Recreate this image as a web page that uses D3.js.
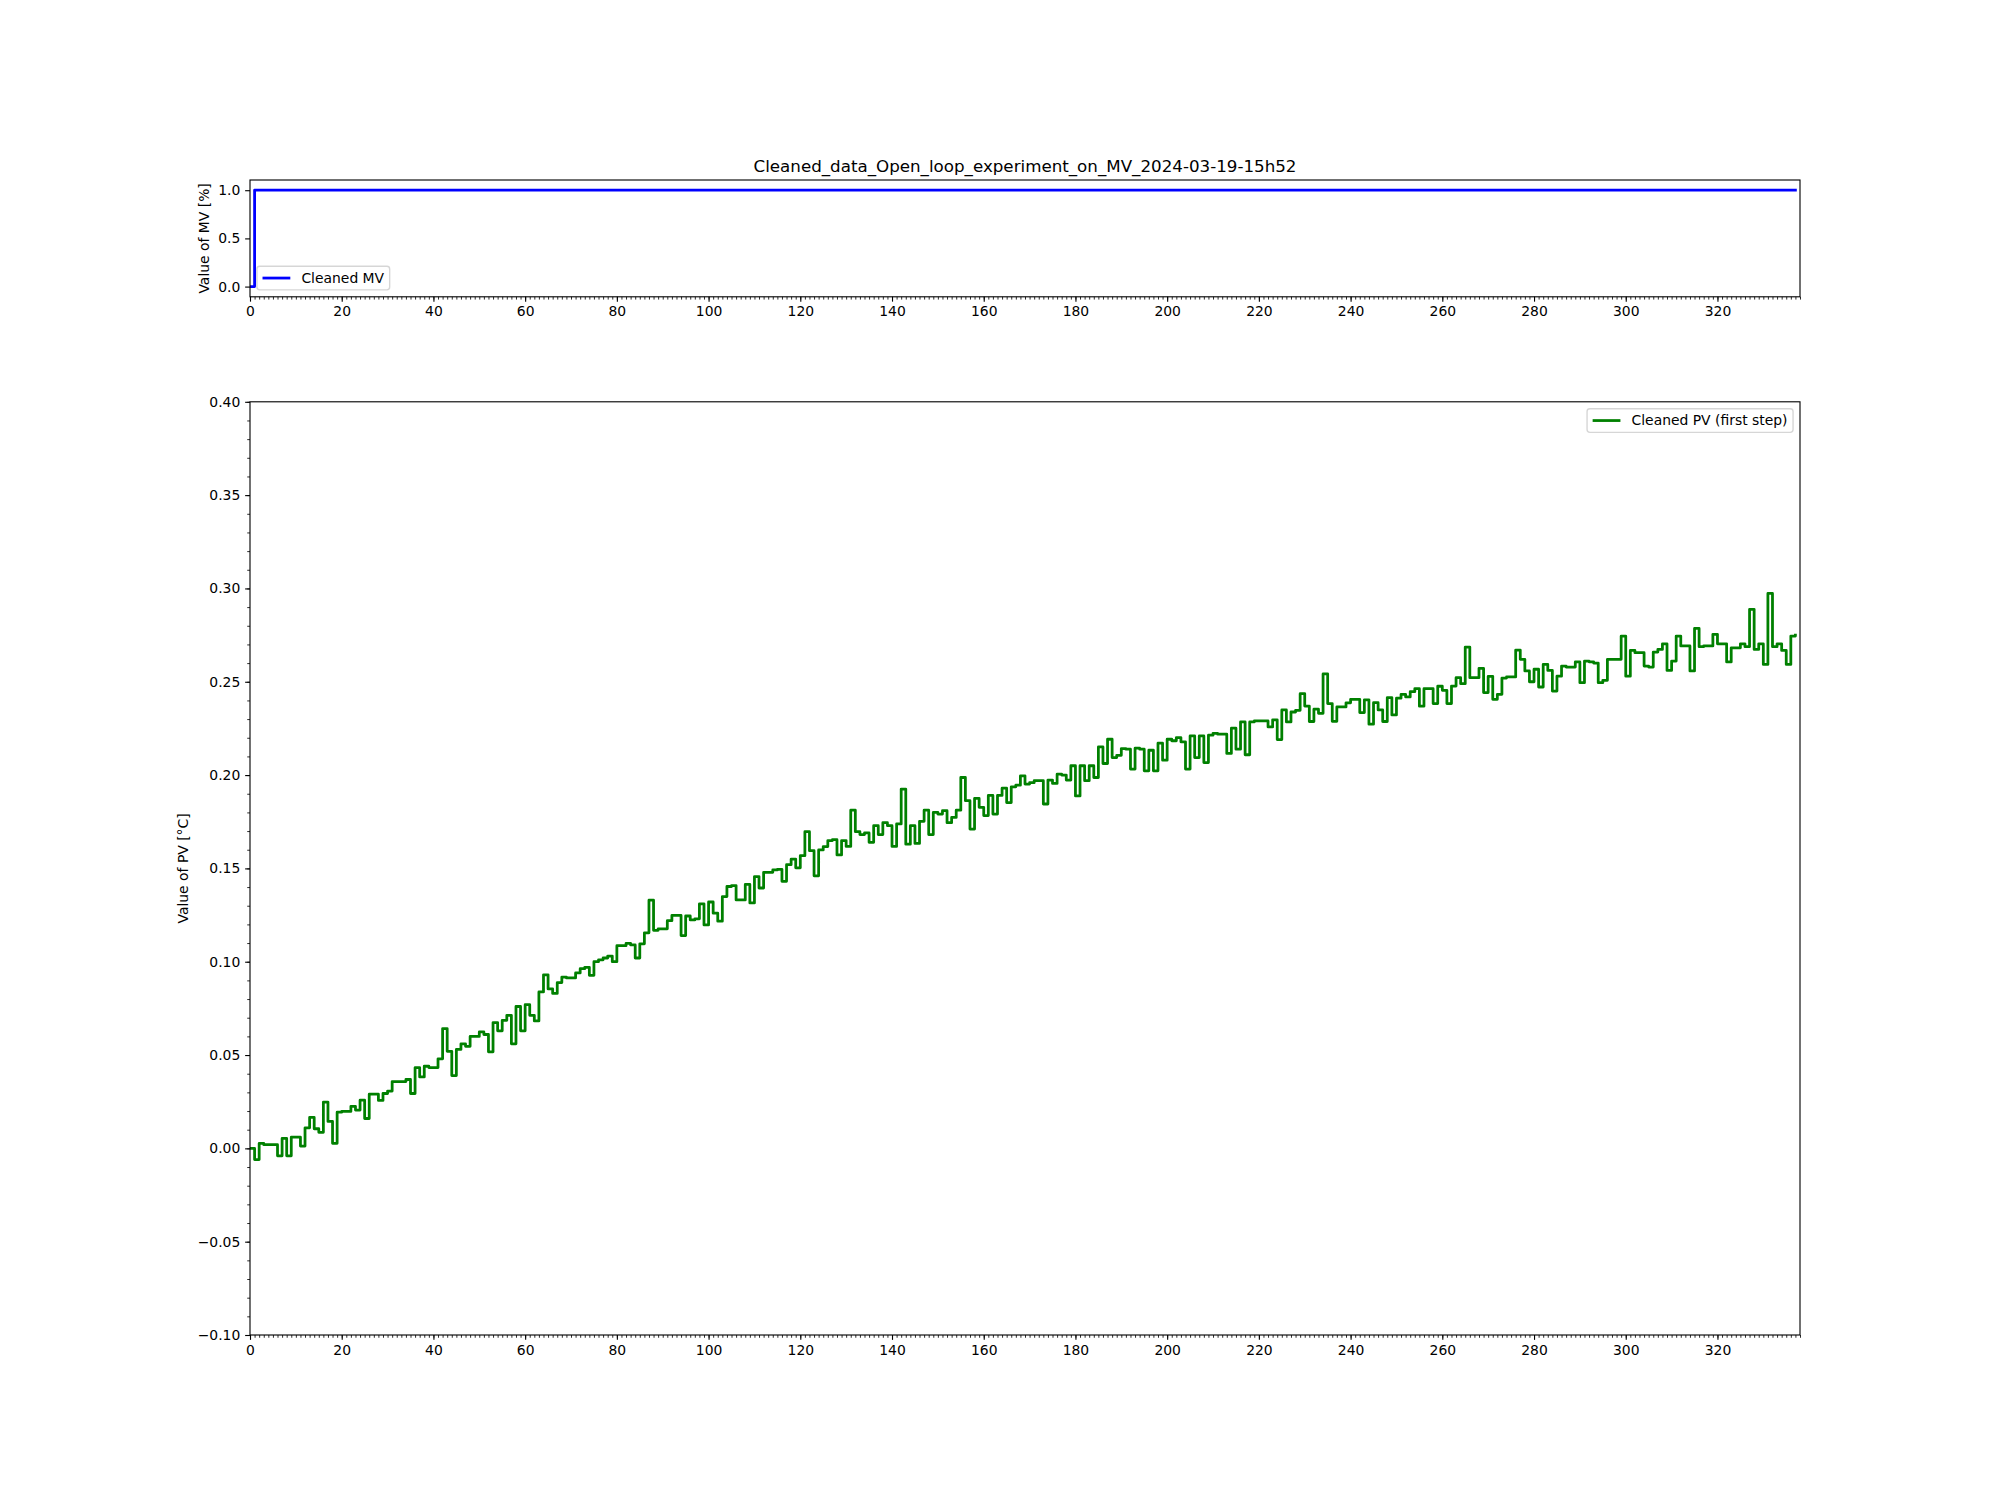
<!DOCTYPE html>
<html>
<head>
<meta charset="utf-8">
<script src="https://cdn.jsdelivr.net/npm/d3@7"></script>
<style>
  body { margin: 0; background: #fff; }
  svg text { font-family: "DejaVu Sans", sans-serif; fill: #000; }
</style>
</head>
<body>
<svg id="chart" width="2000" height="1500"></svg>
<script>
const chartTitle = 'Cleaned_data_Open_loop_experiment_on_MV_2024-03-19-15h52';

// MV: one step from 0 to 1 right after the first sample
const mvTimes = [0, 1, 337];
const mvValues = [0, 1, 1];

// PV (first step), one value per sample
const pvValues = [
  0, -0.006, 0.0027, 0.002, 0.002, 0.002, -0.004, 0.0053, -0.004, 0.006,
  0.006, 0.0012, 0.011, 0.0166, 0.0105, 0.0086, 0.0248, 0.0144, 0.0027, 0.0194,
  0.0198, 0.0198, 0.0225, 0.0205, 0.0258, 0.016, 0.029, 0.029, 0.0257, 0.0294,
  0.0307, 0.0358, 0.0358, 0.0358, 0.0369, 0.0294, 0.0433, 0.0383, 0.044, 0.0433,
  0.0433, 0.048, 0.0642, 0.052, 0.039, 0.053, 0.056, 0.0547, 0.06, 0.06,
  0.0624, 0.061, 0.0517, 0.0674, 0.063, 0.0686, 0.0713, 0.056, 0.076, 0.063,
  0.077, 0.0713, 0.0683, 0.0838, 0.093, 0.0854, 0.083, 0.0888, 0.0918, 0.0913,
  0.0913, 0.094, 0.0963, 0.097, 0.0927, 0.1, 0.101, 0.102, 0.103, 0.1,
  0.1086, 0.1086, 0.1098, 0.109, 0.102, 0.1096, 0.1155, 0.133, 0.1168, 0.1176,
  0.1176, 0.122, 0.1248, 0.1248, 0.114, 0.1245, 0.1224, 0.123, 0.131, 0.1197,
  0.132, 0.126, 0.1217, 0.1349, 0.1403, 0.1408, 0.1331, 0.1331, 0.1414, 0.1315,
  0.1456, 0.1395, 0.1479, 0.1479, 0.1492, 0.1495, 0.1431, 0.152, 0.155, 0.1503,
  0.1568, 0.1697, 0.1595, 0.146, 0.1599, 0.1617, 0.1649, 0.1654, 0.1572, 0.1649,
  0.1618, 0.1812, 0.1697, 0.1681, 0.169, 0.164, 0.1729, 0.1681, 0.1745, 0.1729,
  0.1618, 0.1738, 0.1925, 0.163, 0.1729, 0.1634, 0.1752, 0.1812, 0.1681, 0.18,
  0.1791, 0.1809, 0.1745, 0.1773, 0.1812, 0.1987, 0.1863, 0.1711, 0.1875, 0.1827,
  0.1783, 0.1891, 0.1791, 0.1891, 0.193, 0.1853, 0.1937, 0.1946, 0.1996, 0.1952,
  0.1959, 0.197, 0.197, 0.1845, 0.1973, 0.1955, 0.2005, 0.2, 0.1973, 0.205,
  0.1888, 0.205, 0.197, 0.205, 0.1987, 0.2151, 0.2062, 0.2192, 0.2094, 0.2106,
  0.2142, 0.2139, 0.2032, 0.2144, 0.2139, 0.2023, 0.2133, 0.2023, 0.2171, 0.208,
  0.2192, 0.2184, 0.2201, 0.2178, 0.2032, 0.221, 0.2094, 0.221, 0.2067, 0.2214,
  0.2224, 0.2219, 0.2219, 0.2116, 0.2251, 0.2139, 0.2285, 0.2109, 0.2285, 0.229,
  0.229, 0.229, 0.2258, 0.2296, 0.219, 0.2349, 0.2285, 0.2338, 0.2347, 0.2436,
  0.237, 0.2287, 0.2353, 0.2331, 0.2542, 0.2383, 0.2288, 0.2365, 0.2365, 0.2387,
  0.2406, 0.2406, 0.2335, 0.2403, 0.2273, 0.2388, 0.2349, 0.2287, 0.2415, 0.2322,
  0.2412, 0.2433, 0.2419, 0.2447, 0.2463, 0.2369, 0.2463, 0.2463, 0.2383, 0.2476,
  0.2454, 0.2383, 0.2477, 0.2522, 0.249, 0.2686, 0.2522, 0.2522, 0.2572, 0.2442,
  0.2529, 0.2406, 0.2433, 0.252, 0.2526, 0.2526, 0.267, 0.262, 0.2558, 0.25,
  0.2567, 0.2472, 0.2593, 0.2561, 0.245, 0.253, 0.2584, 0.2579, 0.2579, 0.2606,
  0.2495, 0.2611, 0.2607, 0.26, 0.2495, 0.2508, 0.262, 0.262, 0.262, 0.2745,
  0.253, 0.2668, 0.2656, 0.2656, 0.2584, 0.2579, 0.2659, 0.2673, 0.2703, 0.2561,
  0.2611, 0.2745, 0.2692, 0.2692, 0.2558, 0.2786, 0.2688, 0.2692, 0.2692, 0.2754,
  0.2703, 0.2703, 0.2606, 0.2682, 0.2682, 0.2703, 0.2688, 0.2888, 0.2673, 0.2703,
  0.2593, 0.2973, 0.2688, 0.2703, 0.2668, 0.2593, 0.2745, 0.275
];
// sample index (1 s steps)
const pvTimes = pvValues.map((d, i) => i);

const xTicks = [0, 20, 40, 60, 80, 100, 120, 140, 160, 180, 200, 220, 240, 260, 280, 300, 320];
const mvTicks = [0.0, 0.5, 1.0];
const pvTicks = [-0.10, -0.05, 0.00, 0.05, 0.10, 0.15, 0.20, 0.25, 0.30, 0.35, 0.40];

const FS = 13.9;      // 10pt at 100 dpi
const LW = 2.78;      // 2pt data lines
const svg = d3.select('#chart');

const x = d3.scaleLinear().domain([0, 338]).range([250, 1800]);
const xMinor = d3.range(0, 339, 1);

const line = (sx, sy) => d3.line()
  .x(d => sx(d[0]))
  .y(d => sy(d[1]))
  .curve(d3.curveStepAfter);

function drawPanel(cfg) {
  const y = d3.scaleLinear().domain(cfg.yDomain).range([cfg.bottom, cfg.top]);
  const g = svg.append('g');

  svg.append('clipPath').attr('id', cfg.id + '-clip')
    .append('rect')
    .attr('x', x.range()[0]).attr('y', cfg.top)
    .attr('width', x.range()[1] - x.range()[0])
    .attr('height', cfg.bottom - cfg.top);

  // data line
  g.append('path')
    .datum(cfg.times.map((t, i) => [t, cfg.values[i]]))
    .attr('clip-path', `url(#${cfg.id}-clip)`)
    .attr('fill', 'none')
    .attr('stroke', cfg.color)
    .attr('stroke-width', LW)
    .attr('stroke-linejoin', 'round')
    .attr('stroke-linecap', 'square')
    .attr('d', line(x, y));

  // minor x ticks
  g.append('g')
    .attr('transform', `translate(0,${cfg.bottom})`)
    .call(d3.axisBottom(x).tickValues(xMinor).tickSize(2.78).tickFormat(''))
    .call(s => s.select('.domain').remove())
    .call(s => s.selectAll('line').attr('stroke-width', 0.83));

  // major x ticks
  g.append('g')
    .attr('transform', `translate(0,${cfg.bottom})`)
    .call(d3.axisBottom(x).tickValues(xTicks).tickSize(4.86).tickPadding(4.86).tickFormat(d3.format('d')))
    .call(s => s.select('.domain').remove())
    .call(s => s.selectAll('line').attr('stroke-width', 1.11))
    .call(s => s.selectAll('text').attr('font-size', FS).attr('font-family', null));

  if (cfg.yMinor) {
    g.append('g')
      .attr('transform', `translate(${x.range()[0]},0)`)
      .call(d3.axisLeft(y).tickValues(cfg.yMinor).tickSize(2.78).tickFormat(''))
      .call(s => s.select('.domain').remove())
      .call(s => s.selectAll('line').attr('stroke-width', 0.83));
  }

  g.append('g')
    .attr('transform', `translate(${x.range()[0]},0)`)
    .call(d3.axisLeft(y).tickValues(cfg.yTicks).tickSize(4.86).tickPadding(4.86).tickFormat(d3.format(cfg.yFormat)))
    .call(s => s.select('.domain').remove())
    .call(s => s.selectAll('line').attr('stroke-width', 1.11))
    .call(s => s.selectAll('text').attr('font-size', FS).attr('font-family', null));

  // spines
  g.append('rect')
    .attr('x', x.range()[0]).attr('y', cfg.top)
    .attr('width', x.range()[1] - x.range()[0])
    .attr('height', cfg.bottom - cfg.top)
    .attr('fill', 'none')
    .attr('stroke', '#000')
    .attr('stroke-width', 1.11);

  // y label
  g.append('text')
    .attr('transform', `translate(${cfg.labelX},${(cfg.top + cfg.bottom) / 2}) rotate(-90)`)
    .attr('text-anchor', 'middle')
    .attr('dy', '0.35em')
    .attr('font-size', FS)
    .text(cfg.yLabel);

  drawLegend(g, cfg);
  return g;
}

function drawLegend(g, cfg) {
  const pad = 0.4 * FS, handle = 2 * FS, gap = 0.8 * FS, outer = 0.5 * FS;
  const h = 23.6;
  const leg = g.append('g');
  const box = leg.append('rect')
    .attr('rx', 2.8)
    .attr('fill', '#fff').attr('fill-opacity', 0.8)
    .attr('stroke', '#cccccc').attr('stroke-opacity', 0.8)
    .attr('stroke-width', 1.39);
  const txt = leg.append('text')
    .attr('font-size', FS)
    .attr('dy', '0.35em')
    .text(cfg.legend);
  const w = 2 * pad + handle + gap + txt.node().getComputedTextLength();

  const x0 = cfg.legendCorner === 'upper right' ? x.range()[1] - outer - w : x.range()[0] + outer;
  const y0 = cfg.legendCorner === 'upper right' ? cfg.top + outer : cfg.bottom - outer - h;
  const cy = y0 + h / 2;

  box.attr('x', x0).attr('y', y0).attr('width', w).attr('height', h);
  leg.append('line')
    .attr('x1', x0 + pad).attr('x2', x0 + pad + handle)
    .attr('y1', cy).attr('y2', cy)
    .attr('stroke', cfg.color).attr('stroke-width', LW);
  txt.attr('x', x0 + pad + handle + gap).attr('y', cy);
}

// title above the MV panel
svg.append('text')
  .attr('x', (x.range()[0] + x.range()[1]) / 2)
  .attr('y', 171.7)
  .attr('text-anchor', 'middle')
  .attr('font-size', 16.7)
  .text(chartTitle);

drawPanel({
  id: 'mv', top: 180, bottom: 296.8,
  yDomain: [-0.106, 1.106], yTicks: mvTicks, yFormat: '.1f', yMinor: null,
  times: mvTimes, values: mvValues, color: '#0000ff',
  yLabel: 'Value of MV [%]', labelX: 204,
  legend: 'Cleaned MV', legendCorner: 'lower left'
});

drawPanel({
  id: 'pv', top: 401.8, bottom: 1335,
  yDomain: [-0.10, 0.40], yTicks: pvTicks, yFormat: '.2f', yMinor: d3.range(-10, 41).map(d => d / 100),
  times: pvTimes, values: pvValues, color: '#008000',
  yLabel: 'Value of PV [°C]', labelX: 183,
  legend: 'Cleaned PV (first step)', legendCorner: 'upper right'
});
</script>
</body>
</html>
